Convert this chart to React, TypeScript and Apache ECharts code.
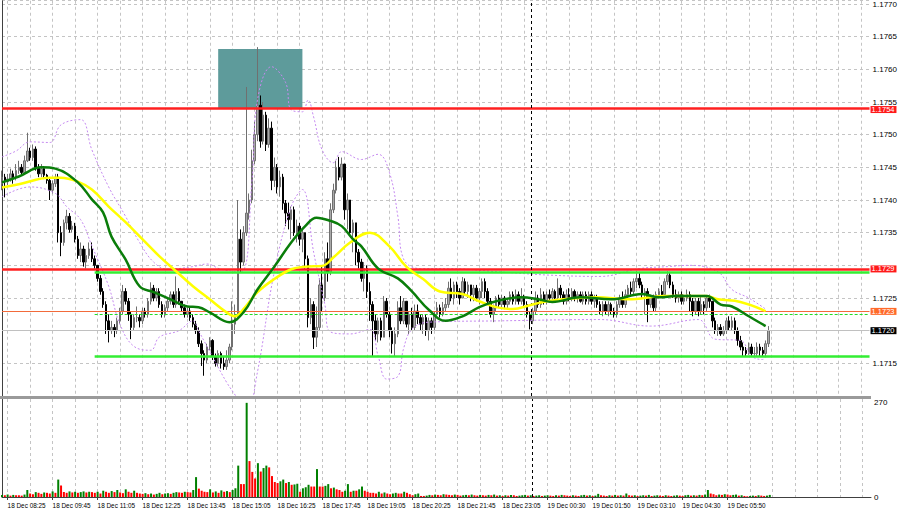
import React, { useEffect, useRef } from "react";
import * as echarts from "echarts";

// Prices are stored as pips above BASE_PRICE (1.1700)
const BASE_PRICE = 1.17;
const PIP = 0.0001;
const SLOT_COUNT = 310; // bar slots on the time axis (incl. empty right margin)
const FIRST_OPEN = 42.5;

const CLOSE = [
  43.5, 42.8, 43.2, 44.0, 43.5, 44.5, 45.0, 44.2, 46.0, 47.5, 46.5, 47.8, 45.0, 44.0, 44.8, 43.8,
  43.0, 41.5, 42.5, 43.5, 35.0, 33.5, 36.5, 37.5, 35.5, 36.0, 34.0, 31.5, 32.5, 30.5, 31.5, 32.5,
  31.0, 30.0, 28.0, 26.0, 24.0, 21.5, 20.0, 20.5, 20.0, 21.5, 23.0, 26.0, 24.5, 22.5, 20.5, 22.0,
  22.0, 21.5, 23.0, 22.5, 24.5, 26.5, 25.0, 26.0, 24.0, 22.5, 23.5, 24.5, 25.5, 24.0, 26.0, 24.5,
  23.5, 22.5, 23.0, 22.0, 21.0, 20.0, 18.0, 16.5, 15.5, 17.5, 18.5, 16.0, 15.0, 16.5, 15.0, 14.5,
  15.5, 17.5, 21.0, 22.5, 34.0, 30.5, 35.0, 38.0, 40.0, 46.0, 50.0, 54.5, 49.0, 53.0, 48.5, 51.0,
  43.0, 45.0, 42.0, 43.5, 39.5, 38.0, 37.0, 38.5, 35.0, 36.0, 34.0, 35.0, 31.0, 22.0, 24.0, 19.0,
  20.5, 27.0, 25.0, 31.0, 29.0, 38.5, 41.5, 45.0, 43.5, 45.5, 38.5, 40.0, 35.0, 36.5, 32.0, 30.5,
  28.0, 29.5, 26.0, 24.0, 21.5, 19.5, 21.5, 19.0, 24.5, 22.5, 20.0, 18.0, 19.5, 23.5, 21.5, 24.5,
  21.0, 22.5, 20.5, 23.0, 22.0, 21.0, 22.0, 20.0, 21.5, 20.5, 22.5, 23.5, 22.5, 23.5, 24.0, 26.5,
  25.0, 27.0, 26.0, 25.0, 27.5, 26.0, 27.0, 25.5, 26.5, 25.0, 26.0, 27.5, 26.0, 24.5, 22.5, 23.5,
  25.0, 24.0, 25.0, 24.0, 24.5, 25.5, 24.5, 25.5, 24.5, 25.0, 24.0, 22.5, 21.5, 23.0, 25.0, 24.0,
  25.5, 24.5, 25.5, 25.0, 26.0, 25.0, 26.5, 25.5, 24.5, 25.5, 25.0, 26.0, 25.0, 25.5, 24.5, 25.5,
  24.5, 25.5, 24.5, 25.0, 24.0, 23.0, 24.0, 23.0, 24.0, 23.0, 22.5, 24.0, 25.0, 24.0, 25.5, 26.5,
  26.0, 27.5, 28.0, 27.0, 25.5, 26.0, 24.0, 25.0, 23.5, 25.5, 26.0, 25.5, 27.5, 28.5, 27.0, 25.5,
  25.0, 25.5, 24.5, 25.0, 25.5, 24.5, 23.0, 24.5, 23.0, 24.0, 23.5, 25.0, 24.5, 21.5, 20.0, 20.5,
  19.5, 20.0, 21.5, 20.5, 21.5, 20.0, 18.5, 17.5, 17.0, 16.5, 17.5, 16.5, 16.5, 17.5, 17.0, 16.5, 18.0, 20.0,
];

const HIGH = [
  44.5, 44.0, 44.0, 44.8, 44.5, 45.5, 46.0, 45.5, 46.8, 50.3, 48.0, 48.5, 48.2, 45.5, 45.5, 45.2,
  44.0, 43.5, 43.0, 44.0, 44.0, 36.0, 37.0, 38.5, 38.0, 36.8, 36.5, 34.5, 33.5, 33.0, 32.5, 33.5,
  33.5, 31.5, 30.0, 28.5, 26.5, 24.5, 22.5, 21.5, 21.0, 22.0, 23.5, 27.0, 26.5, 25.0, 23.0, 22.5,
  23.7, 22.5, 23.5, 23.5, 25.0, 27.4, 27.0, 26.5, 26.5, 24.5, 24.0, 25.0, 26.0, 26.0, 28.3, 26.5,
  24.5, 24.0, 23.5, 23.5, 22.5, 21.5, 20.5, 18.5, 17.0, 18.0, 19.0, 18.7, 16.5, 17.0, 16.8, 16.0,
  17.0, 18.0, 24.5, 24.0, 40.0, 35.5, 36.0, 57.3, 41.0, 47.7, 52.0, 63.4, 56.0, 55.0, 53.5, 52.5,
  52.0, 46.5, 45.5, 44.5, 44.0, 40.0, 39.6, 39.0, 39.0, 37.0, 36.5, 35.5, 35.0, 31.5, 25.0, 24.5,
  23.7, 28.0, 30.0, 32.0, 33.5, 39.5, 42.5, 46.0, 46.6, 46.5, 45.5, 41.0, 40.0, 37.0, 36.5, 32.5,
  31.0, 30.5, 30.0, 27.4, 24.5, 22.5, 22.0, 22.0, 25.3, 25.0, 23.0, 20.5, 20.5, 24.5, 25.3, 25.0,
  24.5, 23.0, 23.5, 24.0, 24.0, 22.5, 22.5, 22.5, 22.0, 22.0, 23.0, 24.4, 24.0, 24.4, 25.0, 27.5,
  28.0, 27.5, 27.5, 26.5, 28.2, 28.0, 27.5, 27.0, 27.0, 27.0, 26.5, 28.0, 28.0, 26.5, 25.0, 24.0,
  25.3, 25.5, 25.5, 25.3, 25.0, 26.0, 26.0, 26.3, 26.0, 26.5, 25.5, 24.5, 23.0, 23.5, 26.0, 25.5,
  26.5, 26.0, 26.0, 26.3, 26.5, 26.3, 28.0, 27.0, 26.0, 26.3, 26.5, 26.5, 26.3, 26.0, 26.0, 26.0,
  26.0, 26.0, 26.0, 25.5, 25.5, 24.5, 24.5, 24.5, 24.5, 24.3, 23.5, 24.5, 25.5, 26.0, 26.3, 27.0,
  27.5, 28.0, 29.1, 29.0, 27.5, 26.5, 26.5, 25.5, 25.5, 26.0, 26.5, 27.0, 28.0, 29.1, 29.0, 27.5,
  26.3, 26.0, 26.0, 25.5, 26.3, 26.0, 25.0, 25.0, 25.0, 25.3, 24.5, 25.3, 25.5, 24.5, 22.0, 21.0,
  21.0, 20.7, 22.0, 22.2, 22.2, 22.0, 20.5, 19.2, 18.2, 17.5, 18.2, 18.0, 17.5, 18.2, 18.0, 17.5, 18.5, 20.7,
];

const LOW = [
  41.5, 40.4, 42.3, 42.8, 42.5, 43.0, 44.0, 43.8, 44.0, 45.8, 46.0, 46.0, 44.5, 43.5, 43.5, 43.2,
  42.5, 40.0, 41.0, 42.0, 33.5, 31.4, 33.0, 35.5, 35.0, 35.0, 33.5, 31.0, 30.5, 29.8, 29.5, 31.0,
  30.5, 29.5, 27.5, 25.5, 23.5, 19.5, 18.2, 19.5, 19.0, 19.5, 21.0, 22.5, 24.0, 21.5, 18.7, 20.0,
  21.3, 20.5, 21.0, 22.0, 22.0, 24.0, 24.5, 24.5, 23.5, 22.0, 22.0, 23.0, 24.0, 23.5, 23.5, 24.0,
  23.0, 22.0, 22.0, 21.5, 20.5, 19.5, 17.5, 14.6, 13.1, 15.0, 17.0, 15.5, 14.5, 14.5, 14.2, 14.0,
  14.0, 15.0, 17.0, 19.5, 22.0, 29.0, 30.0, 34.5, 37.0, 39.5, 45.5, 49.0, 48.0, 48.5, 47.5, 48.0,
  41.5, 42.0, 41.0, 40.5, 38.5, 36.0, 35.5, 34.0, 34.5, 33.5, 33.0, 32.0, 29.5, 20.5, 21.0, 17.2,
  17.5, 20.0, 23.0, 24.5, 27.5, 28.5, 38.0, 41.0, 43.0, 43.0, 37.0, 35.5, 34.5, 32.0, 30.0, 29.5,
  27.5, 26.0, 25.0, 21.5, 16.1, 18.5, 18.2, 18.5, 19.0, 22.0, 19.0, 16.5, 16.1, 19.0, 21.0, 21.0,
  20.5, 19.5, 20.0, 20.0, 21.0, 20.0, 19.5, 19.2, 18.5, 19.5, 20.0, 22.0, 22.0, 22.2, 23.0, 23.5,
  24.5, 24.0, 25.0, 24.0, 25.0, 25.5, 25.0, 24.5, 24.5, 24.5, 24.0, 25.0, 25.0, 24.0, 22.0, 21.3,
  23.0, 23.5, 23.5, 23.3, 23.5, 24.0, 24.0, 24.0, 24.0, 24.0, 23.5, 22.0, 20.2, 21.0, 22.5, 23.5,
  23.5, 24.0, 24.0, 24.3, 24.5, 24.5, 24.5, 25.0, 24.0, 24.0, 24.5, 24.5, 24.5, 24.3, 24.3, 24.0,
  24.0, 24.0, 24.0, 23.5, 23.5, 22.5, 22.2, 22.5, 22.2, 22.5, 22.0, 22.0, 23.5, 23.5, 23.5, 25.0,
  25.5, 25.5, 26.5, 26.5, 25.0, 22.5, 21.3, 23.5, 23.0, 23.0, 25.0, 25.0, 25.0, 27.0, 26.5, 25.0,
  24.3, 24.3, 24.0, 24.0, 24.5, 23.0, 22.2, 22.5, 22.2, 22.5, 22.5, 23.0, 23.5, 20.5, 19.5, 19.2,
  19.2, 19.2, 19.5, 20.0, 20.0, 19.5, 17.7, 17.0, 16.0, 16.0, 16.3, 16.0, 16.0, 16.0, 16.0, 16.0, 16.0, 17.5,
];

const VOLUME = [
  6, 5, 7, 4, 6, 5, 5, 4, 7, 20, 10, 8, 14, 12, 9, 13,
  12, 10, 16, 12, 50, 33, 14, 12, 16, 13, 15, 12, 14, 16, 13, 15,
  14, 12, 15, 10, 18, 15, 12, 17, 14, 20, 13, 11, 22, 15, 12, 18,
  12, 10, 9, 11, 8, 10, 7, 9, 12, 8, 10, 11, 9, 12, 14, 13,
  12, 15, 14, 13, 20, 57, 24, 18, 15, 14, 22, 13, 16, 12, 19, 15,
  17, 14, 20, 25, 90, 37, 37, 270, 103, 72, 53, 97, 73, 83, 90, 85,
  60, 43, 40, 45, 50, 40, 43, 35, 36, 38, 15, 25, 28, 35, 30, 30,
  80, 30, 30, 32, 37, 25, 27, 22, 20, 15, 18, 37, 15, 18, 18, 22,
  30, 18, 15, 12, 12, 10, 15, 10, 13, 10, 8, 10, 12, 10, 10, 15,
  12, 8, 5, 8, 10, 3, 3, 4, 6, 5, 7, 6, 5, 8, 7, 6,
  5, 7, 6, 4, 5, 6, 5, 7, 5, 4, 6, 5, 4, 6, 5, 7,
  4, 5, 3, 5, 4, 6, 5, 3, 4, 5, 6, 4, 5, 3, 4, 5,
  3, 4, 5, 4, 3, 5, 4, 6, 5, 4, 3, 5, 4, 3, 5, 6,
  4, 5, 3, 4, 9, 5, 4, 3, 5, 4, 6, 4, 5, 4, 10, 5,
  4, 5, 3, 4, 5, 4, 6, 3, 4, 5, 4, 3, 5, 4, 3, 4,
  5, 4, 3, 5, 6, 4, 5, 4, 6, 5, 7, 20, 10, 8, 5, 7,
  6, 8, 7, 5, 6, 7, 4, 5, 3, 2, 3, 4, 3, 5, 4, 3, 4, 6,
];

const X_LABELS = [
  "18 Dec 08:25", "18 Dec 09:45", "18 Dec 11:05", "18 Dec 12:25", "18 Dec 13:45",
  "18 Dec 15:05", "18 Dec 16:25", "18 Dec 17:45", "18 Dec 19:05", "18 Dec 20:25",
  "18 Dec 21:45", "18 Dec 23:05", "19 Dec 00:30", "19 Dec 01:50", "19 Dec 03:10",
  "19 Dec 04:30", "19 Dec 05:50",
];
const FIRST_LABEL_BAR = 2;
const LABEL_EVERY = 16;
const GRID_EVERY = 8;

// Indicator curves as [bar index, pips]
const MA_GREEN = [
  [0, 42.7], [6, 43.6], [14, 45], [19, 44.8], [27, 42.7], [32, 40.1], [36, 38.1], [39, 34.4],
  [44, 30.9], [49, 26.8], [54, 25.9], [60, 24.8], [66, 23.7], [70, 23.6], [74, 22.8], [81, 21.3],
  [86, 22.8], [91, 26.3], [97, 29.8], [103, 33.5], [108, 36], [112, 37.3], [117, 36.8], [121, 36],
  [125, 34], [128, 32.9], [134, 29.5], [141, 28], [146, 26], [152, 23.2], [158, 21.5], [164, 22.2],
  [170, 23.6], [176, 24.5], [185, 25.1], [191, 24.8], [196, 24.4], [206, 25.1], [217, 24.8],
  [228, 25.6], [234, 25.1], [240, 25.3], [251, 25.3], [256, 24], [260, 23.7], [266, 22.2], [272, 20.7],
];
const MA_YELLOW = [
  [0, 41.9], [6, 42.4], [17, 43.4], [21, 43.4], [27, 42.8], [32, 41.6], [38, 39], [44, 36.6],
  [50, 34], [56, 31.4], [62, 29.1], [68, 26.8], [74, 24.8], [80, 22.8], [83, 22.2], [86, 23.3],
  [91, 25.9], [97, 27.9], [103, 29.4], [108, 29.8], [114, 29.9], [118, 31.2], [124, 33.5],
  [131, 35], [138, 32.9], [144, 29.8], [150, 27.9], [156, 26], [164, 25.6], [170, 24.5],
  [176, 23.6], [182, 23.3], [188, 23.9], [194, 24.5], [200, 24.8], [212, 25.1], [223, 24.8],
  [236, 25.3], [251, 25.3], [255, 24.8], [263, 24.4], [272, 23],
];
const BAND_UPPER = [
  [0, 46.6], [5, 47.5], [10, 48.9], [17, 48.8], [21, 51.5], [28, 52.3], [32, 47.7], [38, 42],
  [44, 37.5], [49, 33.5], [54, 30.5], [59, 29.4], [68, 29.8], [73, 30.2], [78, 29.4], [85, 29],
  [89, 42.7], [91, 55.3], [96, 60.4], [101, 58], [103, 53.8], [107, 53.5], [109, 55.3],
  [111, 52.7], [114, 47.7], [118, 45.7], [121, 47.4], [128, 46.2], [134, 47], [138, 44.2],
  [141, 37.5], [143, 31], [149, 29.5], [159, 29.5], [177, 29], [195, 28.5], [213, 28.3],
  [227, 29.5], [237, 29.8], [245, 30], [255, 29], [260, 26.3], [266, 25], [272, 23.3],
];
const BAND_LOWER = [
  [0, 40.5], [10, 42], [19, 41], [23, 39], [28, 37], [32, 33], [38, 26.8], [42, 21], [47, 17.6],
  [53, 17], [56, 19], [63, 20], [68, 21.5], [70, 20], [75, 16], [80, 12.1], [84, 9.5], [87, 7],
  [91, 13.7], [97, 29], [103, 39], [107, 41.6], [111, 32], [115, 24], [117, 19.8], [124, 19.5],
  [131, 20.2], [134, 16.1], [137, 12.6], [141, 13], [143, 17.2], [146, 20.2], [152, 21.3],
  [177, 21.5], [213, 21.7], [231, 20.7], [248, 21.7], [254, 18.7], [263, 18.5], [267, 16.1],
  [271, 15.6], [272, 16],
];

// Horizontal levels (pips) and their labels
const LEVEL_TOP = 54;
const LEVEL_TOP_LABEL = "1.1754";
const LEVEL_MID = 29.45;
const LEVEL_MID_LABEL = "1.1729";
const LEVEL_ASK = 22.95;
const LEVEL_ASK_LABEL = "1.1723";
const LEVEL_LAST = 20;
const LEVEL_LAST_LABEL = "1.1720";
const GREEN_MID = 28.95;
const GREEN_DASH = 22.5;
const GREEN_LOW = 16.05;
const GREEN_FROM_BAR = 33;
const ZONE_BARS = [77, 107];
const ZONE_PRICES = [54, 63.1];
const DAY_BREAK_BAR = 188.6;

const VOL_UP = "#008000";
const VOL_DOWN = "#ff0000";

export default function App() {
  const ref = useRef<HTMLDivElement>(null);

  useEffect(() => {
    document.body.style.margin = "0";
    document.body.style.overflow = "hidden";
    if (!ref.current) return;
    const chart = echarts.init(ref.current, undefined, { renderer: "svg" });

    const cats = Array.from({ length: SLOT_COUNT }, (_, i) => String(i));
    const candles = CLOSE.map((c, i) => {
      const o = i === 0 ? FIRST_OPEN : CLOSE[i - 1];
      return [o, c, Math.min(LOW[i], o, c), Math.max(HIGH[i], o, c)];
    });
    const volumes = VOLUME.map((v, i) => ({
      value: v,
      itemStyle: { color: i === 0 || v > VOLUME[i - 1] ? VOL_UP : VOL_DOWN },
    }));

    const isGrid = (idx: number) => idx >= FIRST_LABEL_BAR && (idx - FIRST_LABEL_BAR) % GRID_EVERY === 0;
    const isLabel = (idx: number) => {
      if (idx < FIRST_LABEL_BAR || (idx - FIRST_LABEL_BAR) % LABEL_EVERY !== 0) return false;
      return (idx - FIRST_LABEL_BAR) / LABEL_EVERY < X_LABELS.length;
    };
    const gridLine = { color: "#c4c4c4", type: [3, 3] as number[], width: 1 };
    // tick labels that sit underneath a price box are covered by it, as in the terminal
    const boxed = [LEVEL_TOP, LEVEL_MID, LEVEL_ASK, LEVEL_LAST];
    const fmtPrice = (v: number) => {
      if (v <= 10) return "";
      if (boxed.some((b) => Math.abs(b - v) < 0.8)) return "";
      return (BASE_PRICE + v * PIP).toFixed(4);
    };

    const boxLabel = (text: string, bg: string, dy = 0) => ({
      show: true,
      position: "end",
      formatter: text,
      color: "#ffffff",
      backgroundColor: bg,
      padding: [0, 2, 0, 1],
      fontSize: 7.5,
      lineHeight: 7,
      distance: 1,
      offset: [0, dy],
      fontFamily: "Liberation Sans",
    });

    const option: any = {
      animation: false,
      backgroundColor: "#ffffff",
      textStyle: { fontFamily: "Liberation Sans" },
      grid: [
        { left: 2, right: 29, top: 0, height: 396 },
        { left: 2, right: 29, top: 399, height: 98 },
      ],
      xAxis: [
        {
          gridIndex: 0, type: "category", data: cats, boundaryGap: false,
          axisLine: { show: false }, axisTick: { show: false }, axisLabel: { show: false },
          splitLine: { show: true, interval: (i: number) => isGrid(i), lineStyle: gridLine },
        },
        { gridIndex: 0, type: "value", min: 0, max: SLOT_COUNT - 1, show: false },
        {
          gridIndex: 1, type: "category", data: cats, boundaryGap: false,
          axisLine: { show: true, lineStyle: { color: "#404040", width: 1 } },
          axisTick: { show: true, interval: (i: number) => isLabel(i), length: 3, lineStyle: { color: "#404040" } },
          axisLabel: {
            show: true,
            interval: (i: number) => isLabel(i),
            formatter: (_v: string, i: number) => X_LABELS[(i - FIRST_LABEL_BAR) / LABEL_EVERY] ?? "",
            align: "left",
            margin: 5,
            fontSize: 6.4,
            color: "#000000",
            fontFamily: "Liberation Sans",
          },
          splitLine: { show: true, interval: (i: number) => isGrid(i), lineStyle: gridLine },
        },
        { gridIndex: 1, type: "value", min: 0, max: SLOT_COUNT - 1, show: false },
      ],
      yAxis: [
        {
          gridIndex: 0, type: "value", position: "right", min: 10, max: 70.5, interval: 5,
          axisLine: { show: true, lineStyle: { color: "#404040", width: 1 } },
          axisTick: { show: false },
          axisLabel: { formatter: fmtPrice, fontSize: 8, lineHeight: 6, margin: 3, color: "#000000" },
          splitLine: { show: true, lineStyle: gridLine },
        },
        {
          gridIndex: 1, type: "value", position: "right", min: 0, max: 281, interval: 270,
          axisLine: { show: true, lineStyle: { color: "#404040", width: 1 } },
          axisTick: { show: false },
          axisLabel: { fontSize: 8, lineHeight: 6, margin: 3, color: "#000000" },
          splitLine: { show: false },
        },
      ],
      series: [
        {
          name: "zone", type: "line", xAxisIndex: 1, yAxisIndex: 0, data: [], z: 1, silent: true,
          markArea: {
            silent: true,
            itemStyle: { color: "#5e9b9b", opacity: 1 },
            data: [[{ coord: [ZONE_BARS[0], ZONE_PRICES[0]] }, { coord: [ZONE_BARS[1], ZONE_PRICES[1]] }]],
          },
        },
        {
          name: "levels", type: "line", xAxisIndex: 1, yAxisIndex: 0, data: [], z: 2, silent: true,
          markLine: {
            silent: true, symbol: ["none", "none"], animation: false,
            data: [
              { yAxis: LEVEL_LAST, lineStyle: { color: "#c0c0c0", width: 1, type: "solid" }, label: boxLabel(LEVEL_LAST_LABEL, "#000000") },
              { yAxis: LEVEL_ASK, lineStyle: { color: "#f26a3a", width: 1, type: "solid" }, label: boxLabel(LEVEL_ASK_LABEL, "#ff6a2a") },
              [
                { coord: [GREEN_FROM_BAR, GREEN_DASH], lineStyle: { color: "#22dd22", width: 1, type: [3, 2] }, label: { show: false } },
                { coord: [SLOT_COUNT - 1, GREEN_DASH] },
              ],
              [
                { coord: [GREEN_FROM_BAR, GREEN_MID], lineStyle: { color: "#33ee33", width: 2.5, type: "solid" }, label: { show: false } },
                { coord: [SLOT_COUNT - 1, GREEN_MID] },
              ],
              [
                { coord: [GREEN_FROM_BAR, GREEN_LOW], lineStyle: { color: "#33ee33", width: 2.5, type: "solid" }, label: { show: false } },
                { coord: [SLOT_COUNT - 1, GREEN_LOW] },
              ],
              { yAxis: LEVEL_MID, lineStyle: { color: "#ff2020", width: 2.5, type: "solid" }, label: boxLabel(LEVEL_MID_LABEL, "#ff1a1a") },
              { yAxis: LEVEL_TOP, lineStyle: { color: "#ff2020", width: 2.5, type: "solid" }, label: boxLabel(LEVEL_TOP_LABEL, "#ff1a1a", 1) },
              { xAxis: DAY_BREAK_BAR, lineStyle: { color: "#000000", width: 1, type: [3, 3] }, label: { show: false } },
            ],
          },
        },
        {
          name: "price", type: "candlestick", xAxisIndex: 0, yAxisIndex: 0, data: candles, z: 3,
          barWidth: 2,
          itemStyle: { color: "#a9a9a9", color0: "#000000", borderColor: "#707070", borderColor0: "#000000", borderWidth: 1 },
        },
        {
          name: "bandUp", type: "line", xAxisIndex: 1, yAxisIndex: 0, data: BAND_UPPER, z: 4, silent: true,
          showSymbol: false, smooth: 0.4, lineStyle: { color: "#c58af0", width: 1, type: [2, 2] },
        },
        {
          name: "bandDn", type: "line", xAxisIndex: 1, yAxisIndex: 0, data: BAND_LOWER, z: 4, silent: true,
          showSymbol: false, smooth: 0.4, lineStyle: { color: "#c58af0", width: 1, type: [2, 2] },
        },
        {
          name: "maYellow", type: "line", xAxisIndex: 1, yAxisIndex: 0, data: MA_YELLOW, z: 5, silent: true,
          showSymbol: false, smooth: 0.4, lineStyle: { color: "#ffff00", width: 2.5 },
        },
        {
          name: "maGreen", type: "line", xAxisIndex: 1, yAxisIndex: 0, data: MA_GREEN, z: 6, silent: true,
          showSymbol: false, smooth: 0.4, lineStyle: { color: "#0a7d0a", width: 2.5 },
        },
        {
          name: "volume", type: "bar", xAxisIndex: 2, yAxisIndex: 1, data: volumes, barWidth: 2, z: 3,
        },
        {
          name: "volBreak", type: "line", xAxisIndex: 3, yAxisIndex: 1, data: [], silent: true,
          markLine: {
            silent: true, symbol: ["none", "none"],
            data: [{ xAxis: DAY_BREAK_BAR, lineStyle: { color: "#000000", width: 1, type: [3, 3] }, label: { show: false } }],
          },
        },
      ],
      graphic: [
        { type: "rect", shape: { x: 0, y: 396, width: 871, height: 3 }, style: { fill: "#9a9a9a" }, silent: true, z: 10 },
      ],
    };

    chart.setOption(option);
    return () => chart.dispose();
  }, []);

  return <div ref={ref} style={{ position: "absolute", left: 0, top: 0, width: 900, height: 513 }} />;
}
